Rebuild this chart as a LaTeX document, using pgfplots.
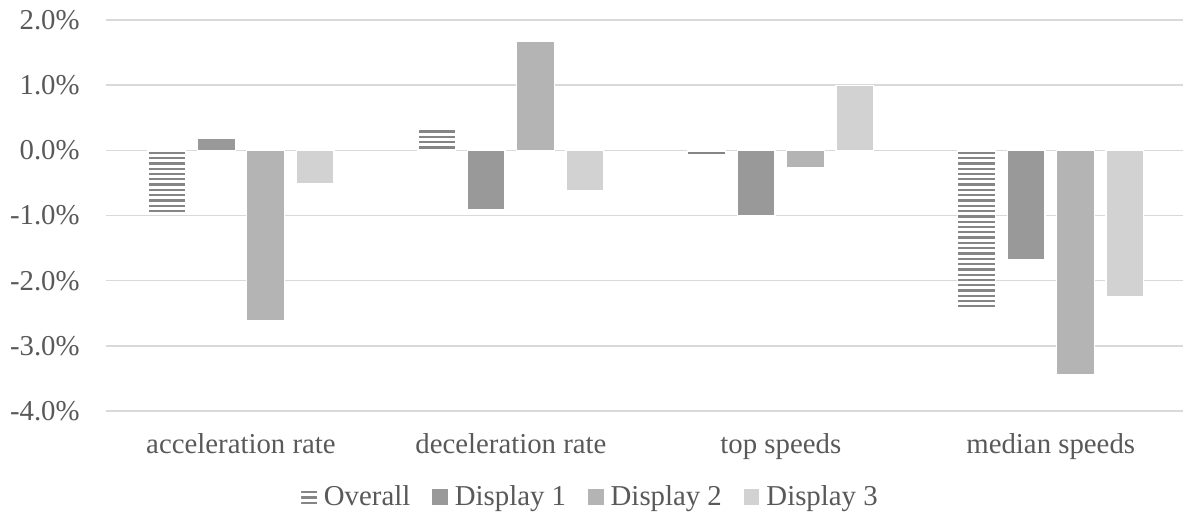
\documentclass[border=0pt]{standalone}
\usepackage{pgfplots}
\pgfplotsset{compat=1.18}
\usepackage{fontspec}
\setmainfont{Liberation Serif}
\usetikzlibrary{patterns}
\definecolor{txtgray}{HTML}{595959}
\definecolor{gridgray}{HTML}{D9D9D9}
\definecolor{dOne}{HTML}{999999}
\definecolor{dTwo}{HTML}{B4B4B4}
\definecolor{dThree}{HTML}{D2D2D2}
\definecolor{ovl}{HTML}{858585}
\pgfdeclarepatternformonly{hlinesO}{\pgfqpoint{-1pt}{-1pt}}{\pgfqpoint{4pt}{4pt}}{\pgfqpoint{2.65pt}{2.65pt}}{%
  \pgfpathrectangle{\pgfqpoint{-1pt}{0pt}}{\pgfqpoint{5pt}{1.15pt}}\pgfusepath{fill}}
\begin{document}
\begin{tikzpicture}
\path[use as bounding box] (-53pt,-57pt) rectangle (538.5pt,205.5pt);
\begin{axis}[
  at={(0pt,0pt)}, anchor=south west,
  scale only axis, width=538.5pt, height=195.5pt,
  xmin=-0.5, xmax=3.49, ymin=-4, ymax=2,
  ybar, bar width=0.14,
  axis line style={draw=none}, major tick length=0pt,
  xtick={0,1,2,3},
  xticklabels={acceleration rate, deceleration rate, top speeds, median speeds},
  ytick={-4,-3,-2,-1,0,1,2},
  yticklabel={\pgfmathprintnumber[fixed,fixed zerofill,precision=1,assume math mode=true]{\tick}\%},
  ymajorgrids, grid style={draw=gridgray, line width=0.75pt},
  tick label style={font=\fontsize{14.4}{17}\selectfont, text=txtgray},
  xticklabel style={inner sep=0pt, anchor=north, yshift=-11pt},
  yticklabel style={inner sep=0pt, anchor=east, xshift=-13pt},
  legend style={at={(0.4508,-0.22)}, anchor=center, legend columns=4, draw=none,
    font=\fontsize{14.4}{17}\selectfont, text=txtgray,
    /tikz/every odd column/.append style={column sep=1.5pt},
    /tikz/every even column/.append style={column sep=9pt},
    nodes={inner sep=2pt}},
  legend image code/.code={\path[#1,draw=none] (0pt,-3.8pt) rectangle (7.8pt,3.8pt);},
  clip=false,
]
\addplot[draw=white, line width=0.6pt, pattern=hlinesO, pattern color=ovl, bar shift=-0.2745]
  coordinates {(0,-0.97) (1,0.37) (2,-0.066) (3,-2.42)};
\addplot[draw=white, line width=0.6pt, fill=dOne, bar shift=-0.0915]
  coordinates {(0,0.18) (1,-0.905) (2,-1.0) (3,-1.67)};
\addplot[draw=white, line width=0.6pt, fill=dTwo, bar shift=0.0915]
  coordinates {(0,-2.61) (1,1.67) (2,-0.26) (3,-3.44)};
\addplot[draw=white, line width=0.6pt, fill=dThree, bar shift=0.2745]
  coordinates {(0,-0.51) (1,-0.62) (2,1.0) (3,-2.24)};
\legend{Overall, Display 1, Display 2, Display 3}
\end{axis}
\end{tikzpicture}
\end{document}
